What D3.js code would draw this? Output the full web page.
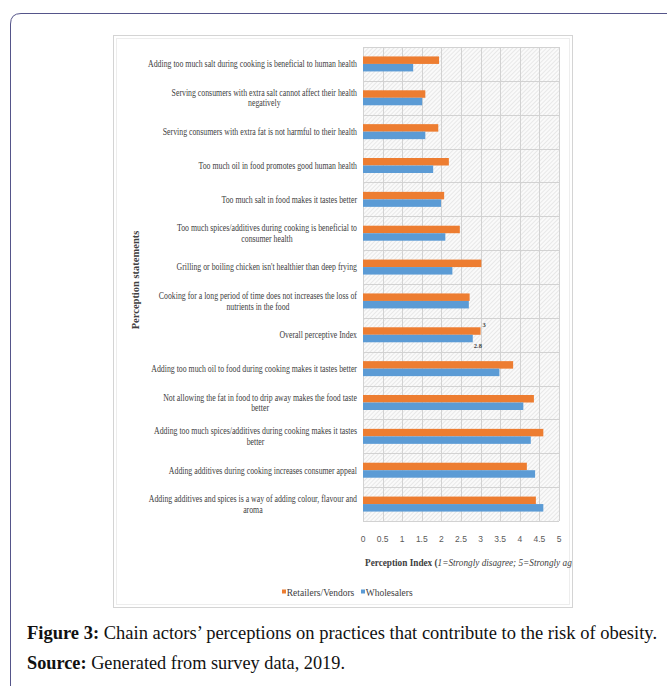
<!DOCTYPE html>
<html><head><meta charset="utf-8">
<script src="https://cdn.jsdelivr.net/npm/d3@7"></script>
<style>body{margin:0;background:#fff;} svg{display:block;}</style>
</head><body>
<svg id="c" width="667" height="686"></svg>
<script>
const categories = [
  ["Adding too much salt during cooking is beneficial to human health"],
  ["Serving consumers with extra salt cannot affect their health","negatively"],
  ["Serving consumers with extra fat is not harmful to their health"],
  ["Too much oil in food promotes good human health"],
  ["Too much salt in food makes it tastes better"],
  ["Too much spices/additives during cooking is beneficial to","consumer health"],
  ["Grilling or boiling chicken isn't healthier than deep frying"],
  ["Cooking for a long period of time does not increases the loss of","nutrients in the food"],
  ["Overall perceptive Index"],
  ["Adding too much oil to food during cooking makes it tastes better"],
  ["Not allowing the fat in food to drip away makes the food taste","better"],
  ["Adding too much spices/additives during cooking makes it tastes","better"],
  ["Adding additives during cooking increases consumer appeal"],
  ["Adding additives and spices is a way of adding colour, flavour and","aroma"]
];
const retailers   = [1.94,1.59,1.92,2.19,2.07,2.47,3.02,2.72,3.0,3.83,4.36,4.60,4.18,4.41];
const wholesalers = [1.28,1.51,1.59,1.79,1.99,2.10,2.28,2.70,2.8,3.48,4.09,4.28,4.39,4.60];
const seriesNames = ["Retailers/Vendors","Wholesalers"];
const tickValues = [0,0.5,1,1.5,2,2.5,3,3.5,4,4.5,5];
const labelledIndex = 8;

const colors = {orange:"#ED7D31", blue:"#5B9BD5"};
const svg = d3.select("#c");

// outer page frame
svg.append("path")
  .attr("d","M10.5,686 L10.5,24 Q10.5,13.5 21,13.5 L667,13.5")
  .attr("fill","none").attr("stroke","#55558a").attr("stroke-width",1);

// inner picture frame
svg.append("rect").attr("x",113.5).attr("y",35.5).attr("width",459).attr("height",572)
  .attr("fill","#fff").attr("stroke","#d4d4d4");
svg.append("rect").attr("x",116.5).attr("y",38.5).attr("width",453).attr("height",566)
  .attr("fill","none").attr("stroke","#ededed");

const defs = svg.append("defs");
const pat = defs.append("pattern").attr("id","hatch").attr("width",3).attr("height",3)
  .attr("patternUnits","userSpaceOnUse").attr("patternTransform","rotate(45)");
pat.append("rect").attr("width",3).attr("height",3).attr("fill","#fafafa");
pat.append("line").attr("x1",0).attr("y1",0).attr("x2",0).attr("y2",3)
  .attr("stroke","#dadada").attr("stroke-width",1.1);
defs.append("clipPath").attr("id","frameclip").append("rect")
  .attr("x",114).attr("y",36).attr("width",458).attr("height",570);

const x = d3.scaleLinear().domain([0,5]).range([363,559]);
const y = d3.scaleBand().domain(d3.range(categories.length)).range([47,521]);
const barH = 7.5;

// plot background
svg.append("rect").attr("x",x(0)).attr("y",y.range()[0])
  .attr("width",x(5)-x(0)).attr("height",y.range()[1]-y.range()[0])
  .attr("fill","url(#hatch)");

// grid
const g = svg.append("g");
g.selectAll("line.v").data(tickValues).join("line")
  .attr("x1",d=>Math.round(x(d))+0.5).attr("x2",d=>Math.round(x(d))+0.5)
  .attr("y1",y.range()[0]).attr("y2",y.range()[1])
  .attr("stroke","#d2d2d2");
g.selectAll("line.h").data(d3.range(categories.length+1)).join("line")
  .attr("x1",x(0)).attr("x2",x(5))
  .attr("y1",i=>Math.round(y.range()[0]+i*y.step())+0.5)
  .attr("y2",i=>Math.round(y.range()[0]+i*y.step())+0.5)
  .attr("stroke","#d2d2d2");

// bars
const rows = categories.map((c,i)=>({i,r:retailers[i],w:wholesalers[i]}));
svg.selectAll("rect.r").data(rows).join("rect")
  .attr("x",x(0)).attr("y",d=>y(d.i)+y.bandwidth()/2-barH)
  .attr("width",d=>x(d.r)-x(0)).attr("height",barH).attr("fill",colors.orange);
svg.selectAll("rect.w").data(rows).join("rect")
  .attr("x",x(0)).attr("y",d=>y(d.i)+y.bandwidth()/2)
  .attr("width",d=>x(d.w)-x(0)).attr("height",barH).attr("fill",colors.blue);

// data labels on overall index
const li = labelledIndex;
svg.append("text").attr("x",x(retailers[li])+2).attr("y",y(li)+y.bandwidth()/2-barH-0.5)
  .attr("font-family","Liberation Serif").attr("font-weight","bold").attr("font-size",6.5)
  .attr("fill","#404040").text(retailers[li]);
svg.append("text").attr("x",x(wholesalers[li])+1).attr("y",y(li)+y.bandwidth()/2+barH+6)
  .attr("font-family","Liberation Serif").attr("font-weight","bold").attr("font-size",6.5)
  .attr("fill","#404040").text(wholesalers[li]);

// category labels (compressed serif, right aligned block, lines centred)
const labelRight = 357, fs = 10.4, lh = 10.6;
const measure = (t)=>{
  const e = svg.append("text").attr("font-family","Liberation Serif").attr("font-size",fs).text(t);
  const w = e.node().getComputedTextLength(); e.remove(); return w;
};
const sx = 209 / measure(categories[0][0]);
const lg = svg.append("g").attr("transform",`translate(${labelRight},0) scale(${sx},1)`);
rows.forEach(d=>{
  const lines = categories[d.i];
  const cy = y(d.i)+y.bandwidth()/2;
  const maxW = d3.max(lines, measure);
  const n = lines.length;
  lines.forEach((t,k)=>{
    lg.append("text").attr("x",-maxW/2).attr("y",cy+(k-(n-1)/2)*lh+3.4)
      .attr("text-anchor","middle").attr("font-family","Liberation Serif")
      .attr("font-size",fs).attr("fill","#404040").text(t);
  });
});

// x tick labels
svg.selectAll("text.tick").data(tickValues).join("text")
  .attr("x",d=>x(d)).attr("y",542).attr("text-anchor","middle")
  .attr("font-family","Liberation Sans").attr("font-size",8.5).attr("fill","#595959")
  .text(d=>d);

// x axis title
const xt = svg.append("g").attr("clip-path","url(#frameclip)").append("text")
  .attr("x",0).attr("y",0)
  .attr("transform","translate(365,566) scale(0.84,1)")
  .attr("font-family","Liberation Serif").attr("font-size",11).attr("fill","#404040");
xt.append("tspan").attr("font-weight","bold").text("Perception Index (");
xt.append("tspan").attr("font-style","italic").text("1=Strongly disagree; 5=Strongly agree)");

// y axis title
svg.append("text").attr("transform",`translate(139,${(y.range()[0]+y.range()[1])/2-4}) rotate(-90)`)
  .attr("text-anchor","middle").attr("font-family","Liberation Serif").attr("font-weight","bold")
  .attr("font-size",10.5).attr("fill","#404040").text("Perception statements");

// legend
const legend = svg.append("g").attr("transform","translate(282,592)");
const legX = [0,79];
seriesNames.forEach((n,k)=>{
  const gg = legend.append("g").attr("transform",`translate(${legX[k]},0)`);
  gg.append("rect").attr("x",0).attr("y",-2.5).attr("width",4).attr("height",4)
    .attr("fill",k===0?colors.orange:colors.blue);
  gg.append("text").attr("x",5).attr("y",3.5).attr("transform","scale(0.95,1)")
    .attr("font-family","Liberation Serif").attr("font-size",10).attr("fill","#404040").text(n);
});

// caption
const cap = svg.append("text").attr("x",27).attr("y",639)
  .attr("font-family","Liberation Serif").attr("font-size",18.5).attr("fill","#111");
cap.append("tspan").attr("font-weight","bold").text("Figure 3:");
cap.append("tspan").text(" Chain actors\u2019 perceptions on practices that contribute to the risk of obesity.");
const src = svg.append("text").attr("x",27).attr("y",669)
  .attr("font-family","Liberation Serif").attr("font-size",18.3).attr("fill","#111");
src.append("tspan").attr("font-weight","bold").text("Source:");
src.append("tspan").text(" Generated from survey data, 2019.");
</script>
</body></html>
